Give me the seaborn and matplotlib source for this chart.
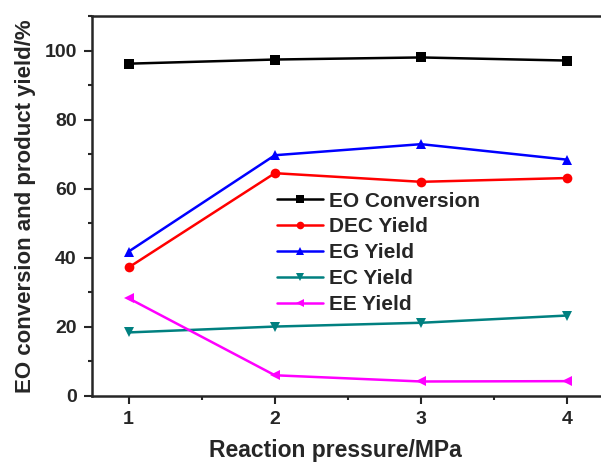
import pandas as pd
import matplotlib
matplotlib.use('Agg')
import matplotlib.pyplot as plt
import seaborn as sns
from matplotlib.ticker import MultipleLocator

# data
pressure = [1, 2, 3, 4]
eo_conversion = [96.2, 97.4, 98.0, 97.1]
dec_yield = [37.2, 64.5, 62.0, 63.1]
eg_yield = [41.8, 69.7, 72.9, 68.4]
ec_yield = [18.4, 20.1, 21.2, 23.3]
ee_yield = [28.3, 6.0, 4.2, 4.3]

series_names = ['EO Conversion', 'DEC Yield', 'EG Yield', 'EC Yield', 'EE Yield']
series_values = [eo_conversion, dec_yield, eg_yield, ec_yield, ee_yield]
colors = ['black', 'red', 'blue', '#008080', 'magenta']
markers = ['s', 'o', '^', 'v', '<']

sns.set_style('ticks')
plt.rcParams['font.family'] = ['Liberation Sans', 'DejaVu Sans']
plt.rcParams['font.weight'] = 'bold'

# long-form table for seaborn
rows = []
for name, vals in zip(series_names, series_values):
    for p, v in zip(pressure, vals):
        rows.append({'pressure': p, 'value': v, 'series': name})
df = pd.DataFrame(rows)

fig = plt.figure(figsize=(6.01, 4.62), dpi=100)
ax = fig.add_axes([92 / 601, 1 - 396 / 462, 512 / 601, 380 / 462])

sns.lineplot(data=df, x='pressure', y='value', hue='series', style='series',
             hue_order=series_names, style_order=series_names,
             palette=colors, markers=markers, dashes=False,
             markersize=7, markeredgewidth=0, linewidth=1.8, ax=ax)

ax.set_xlim(0.75, 4.25)
ax.set_ylim(0, 110)
ax.xaxis.set_major_locator(MultipleLocator(1))
ax.xaxis.set_minor_locator(MultipleLocator(0.5))
ax.yaxis.set_major_locator(MultipleLocator(20))
ax.yaxis.set_minor_locator(MultipleLocator(10))
ax.tick_params(which='major', direction='out', length=6, width=1.5, labelsize=14, pad=5)
ax.tick_params(which='minor', direction='out', length=3, width=1.5)
ax.tick_params(top=False, right=False)
for lbl in ax.get_xticklabels() + ax.get_yticklabels():
    lbl.set_fontweight('bold')
for side in ['left', 'bottom', 'top']:
    ax.spines[side].set_linewidth(1.8)
ax.spines['right'].set_visible(False)

ax.set_xlabel('Reaction pressure/MPa', fontsize=16.5, fontweight='bold', labelpad=8)
ax.xaxis.label.set_x(0.475)
ax.set_ylabel('EO conversion and product yield/%', fontsize=16, fontweight='bold', labelpad=6)

leg = ax.legend(loc='upper left', bbox_to_anchor=(0.345, 0.56), frameon=False,
                prop={'weight': 'bold', 'size': 15},
                handlelength=2.2, handletextpad=0.3, labelspacing=0.33,
                borderaxespad=0, title=None)
for h in leg.legend_handles:
    h.set_markersize(5.5)

fig.savefig('out.png', dpi=100)
